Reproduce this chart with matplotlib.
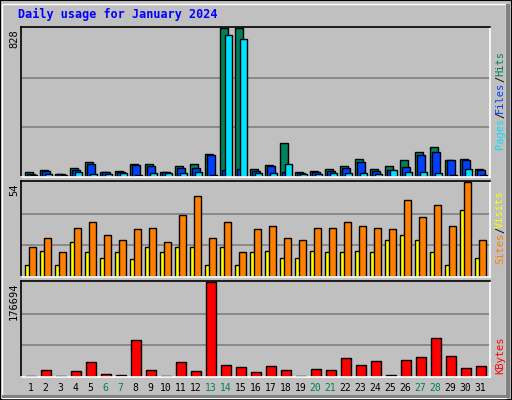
import numpy as np
import matplotlib.pyplot as plt
from matplotlib.patches import Rectangle

days = np.arange(1, 32)
weekend = [6, 7, 13, 14, 20, 21, 27, 28]

# values
hits = [26, 41, 19, 52, 86, 30, 36, 75, 75, 30, 60, 75, 131, 828, 828, 47, 69, 187,
        30, 36, 47, 60, 103, 47, 60, 97, 142, 170, 97, 103, 47]
files = [19, 34, 15, 41, 75, 30, 26, 69, 64, 26, 52, 52, 125, 41, 47, 34, 64, 30,
         22, 30, 34, 52, 81, 34, 41, 58, 120, 142, 92, 92, 41]
pages = [11, 19, 11, 30, 19, 19, 22, 11, 22, 22, 22, 30, 11, 789, 772, 22, 22, 75,
         15, 19, 22, 22, 22, 19, 41, 30, 30, 22, 11, 47, 11]
visits = [7, 15, 7, 20, 14, 11, 14, 10, 17, 14, 17, 17, 7, 17, 7, 14, 15, 11,
          11, 15, 14, 14, 15, 14, 21, 24, 21, 14, 7, 38, 11]
sites = [17, 22, 14, 28, 31, 24, 21, 27, 28, 20, 35, 46, 22, 31, 14, 27, 29, 22,
         21, 28, 28, 31, 29, 28, 27, 44, 34, 41, 29, 54, 21]
kbytes = [2600, 12300, 2600, 10300, 27700, 6400, 4500, 68400, 12300, 2600, 27700, 10300,
          176694, 21900, 18100, 8400, 20000, 12300, 2600, 14200, 12300, 35500, 21900, 29700,
          4500, 31600, 37400, 72200, 39300, 16100, 20000]

W, H = 512, 400
bg = "#c0c0c0"
fig = plt.figure(figsize=(W / 100, H / 100), dpi=100)
fig.patch.set_facecolor(bg)
mono = "DejaVu Sans Mono"

# 3d frame
fig.add_artist(Rectangle((0, 0), 1, 1, transform=fig.transFigure, fill=False, ec="black", lw=1.5))
fig.add_artist(Rectangle((2 / W, 2 / H), 1 - 8 / W, 1 - 6 / H, transform=fig.transFigure,
                         fill=False, ec="white", lw=1))
fig.add_artist(Rectangle((1 - 6 / W, 2 / H), 4 / W, 1 - 6 / H, transform=fig.transFigure,
                         color="#808080", lw=0))
fig.add_artist(Rectangle((2 / W, 2 / H), 1 - 8 / W, 3 / H, transform=fig.transFigure,
                         color="#808080", lw=0))

fig.text(18 / W, 1 - 14 / H, "Daily usage for January 2024", color="#0000ff",
         family=mono, weight="bold", fontsize=8.5, va="center")

x0, x1 = 21, 490
xl = (0.28, 0.28 + (x1 - x0) / 15)


def panel(top, bottom, ymax, label):
    ax = fig.add_axes([x0 / W, 1 - bottom / H, (x1 - x0) / W, (bottom - top) / H])
    ax.set_facecolor(bg)
    ax.set_xlim(*xl)
    ax.set_ylim(0, ymax * 1.01)
    for g in (ymax / 3, ymax * 2 / 3):
        ax.axhline(g, color="#808080", lw=1.2, zorder=0)
    ax.set_xticks([])
    ax.set_yticks([])
    for s in ax.spines.values():
        s.set_color("black")
        s.set_linewidth(1.2)
    ax.spines["right"].set_color("white")
    ax.spines["bottom"].set_color("white")
    fig.text(14 / W, 1 - (top + 2) / H, label, rotation=90, family=mono, fontsize=7.5,
             ha="center", va="top")
    return ax


kw = dict(align="edge", edgecolor="black", linewidth=1)
ax1 = panel(27, 177, 828, "828")
ax1.bar(days - 0.45, hits, 0.5, color="#00805c", **kw)
ax1.bar(days - 0.3, files, 0.5, color="#0040ff", **kw)
ax1.bar(days - 0.15, pages, 0.5, color="#00e0ff", **kw)

ax2 = panel(181, 277, 54, "54")
ax2.bar(days - 0.45, visits, 0.3, color="#ffff00", **kw)
ax2.bar(days - 0.2, sites, 0.5, color="#ff8000", **kw)

ax3 = panel(281, 377, 176694, "176694")
ax3.bar(days - 0.4, kbytes, 0.7, color="#ff0000", **kw)

for d in days:
    xf = (x0 + (d - xl[0] - 0.1) * 15) / W
    fig.text(xf, 1 - 388 / H, str(d), family=mono, fontsize=7, ha="center", va="center",
             color="#00805c" if d in weekend else "black")


def side(ycenter, parts):
    # rotated legend text built from coloured pieces, bottom to top
    total = sum(len(t) for t, _ in parts)
    step = 6.0
    y = ycenter + total * step / 2
    for t, c in parts:
        n = len(t)
        fig.text(500 / W, 1 - (y - n * step / 2) / H, t, rotation=90, family=mono, fontsize=7.5,
                 color=c, ha="center", va="center")
        y -= n * step


side(100, [("Pages", "#00e0ff"), ("/", "black"), ("Files", "#0040ff"), ("/", "black"), ("Hits", "#00805c")])
side(227, [("Sites", "#ff8000"), ("/", "black"), ("Visits", "#ffff00")])
side(355, [("KBytes", "#ff0000")])

fig.savefig("out.png", dpi=100, facecolor=bg)
